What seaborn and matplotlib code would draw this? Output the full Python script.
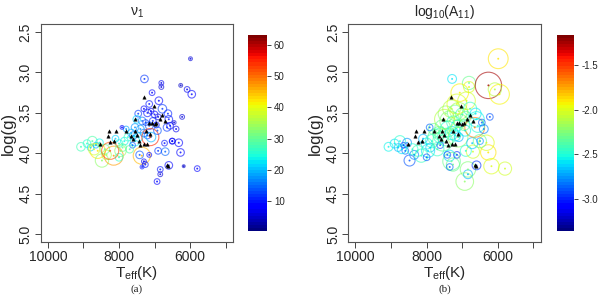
import numpy as np
import pandas as pd
import matplotlib
matplotlib.use('Agg')
import matplotlib.pyplot as plt
import seaborn as sns
from matplotlib.colors import Normalize
from matplotlib.cm import ScalarMappable

# stars with pulsation data
teff = [9070, 8900, 8800, 8750, 8600, 8480, 8650, 8550, 8400, 8150,
        7960, 8000, 8100, 7850, 7750, 7650, 7550, 7900, 8350, 8000,
        7460, 7300, 7200, 7100, 7000, 6900, 7350, 7250, 7150, 7050,
        6950, 7400, 7300, 7200, 7100, 7450, 7550, 7600, 7620, 7120,
        7360, 7260, 7150, 6900, 6700, 6720, 6320, 6270, 6500, 6840,
        6840, 6180, 5800, 6930, 7300, 6650, 6565, 6625, 6395, 6225,
        6505, 7285, 6810, 6810, 6265, 6085, 5955, 5990, 7070, 7150,
        6880, 6780, 6600, 7500, 6920, 6450, 7700, 7800, 7916, 7420,
        7352, 6600, 8250, 8700]
logg = [3.92, 3.88, 3.93, 3.85, 3.97, 4.09, 3.90, 3.87, 3.95, 4.03,
        3.97, 3.88, 3.82, 3.85, 3.80, 3.75, 3.68, 3.93, 4.02, 4.05,
        3.51, 3.45, 3.50, 3.48, 3.52, 3.55, 3.60, 3.62, 3.66, 3.60,
        3.65, 3.70, 3.75, 3.78, 3.80, 3.80, 3.85, 3.78, 3.90, 3.80,
        4.03, 4.14, 4.02, 3.97, 3.98, 3.875, 3.87, 3.99, 3.85, 4.20,
        4.26, 4.16, 4.19, 4.35, 4.10, 3.68, 3.66, 3.51, 3.70, 3.55,
        3.85, 3.08, 3.13, 3.18, 3.16, 3.21, 3.27, 2.83, 3.25, 3.39,
        3.35, 3.45, 3.58, 3.58, 3.72, 3.62, 3.95, 3.70, 3.68, 4.02,
        4.17, 4.15, 3.97, 3.95]
nu1 = [27, 25, 22, 28, 42, 33, 20, 24, 30, 47,
       33, 25, 22, 24, 26, 20, 18, 30, 35, 26,
       12, 8, 10, 7, 9, 6, 15, 12, 14, 11,
       9, 18, 16, 13, 20, 22, 24, 17, 14, 55,
       45, 10, 8, 12, 15, 10, 8, 9, 7, 10,
       6, 5, 8, 9, 7, 12, 9, 11, 7, 6,
       8, 12, 7, 6, 5, 7, 9, 6, 8, 10,
       9, 12, 10, 22, 14, 6, 28, 19, 8, 14,
       10, 9, 52, 38]
amp_a = [4.5, 4, 3.5, 5, 8, 7, 3, 4, 5, 10,
         6, 4, 3.5, 4, 4, 4, 4, 4, 5, 4,
         3.5, 3, 4, 3, 3.5, 3, 4, 3, 4, 3.5,
         3, 4, 4, 3.5, 5, 4.5, 5, 4, 3, 9,
         9, 3, 2.5, 3.5, 4, 3, 4, 4, 3, 3,
         2.5, 1.5, 3, 3, 2.5, 4, 3.5, 4, 3, 2.5,
         3, 4, 2.5, 2.5, 2, 3, 4, 2, 3, 3.5,
         4, 4.5, 4, 4, 4, 2, 4, 3, 2, 4,
         2, 4, 9, 6]
logA = [-2.55, -2.6, -2.7, -2.5, -2.85, -2.9, -2.95, -2.75, -2.5, -2.45,
        -2.6, -2.55, -2.7, -2.5, -2.35, -2.4, -2.3, -2.65, -2.8, -2.9,
        -2.2, -2.1, -2.3, -2.15, -2.4, -2.3, -2.25, -2.45, -2.5, -2.2,
        -2.35, -2.5, -2.6, -2.55, -2.7, -2.4, -2.35, -2.45, -2.9, -2.2,
        -2.6, -2.3, -2.95, -2.5, -2.05, -2.65, -2.0, -1.9, -2.75, -2.25,
        -2.7, -2.0, -2.05, -2.2, -2.3, -1.65, -2.5, -2.6, -2.8, -2.9,
        -2.3, -2.6, -2.3, -2.0, -1.25, -2.1, -1.95, -1.9, -1.95, -2.0,
        -2.05, -2.45, -2.55, -2.1, -2.55, -2.85, -2.45, -2.3, -2.85, -2.9,
        -2.85, -2.95, -2.4, -2.6]
amp_b = [4, 4, 3.5, 5, 3, 5, 2.5, 4, 5, 6,
         6, 5, 4, 6, 7, 6, 7, 4, 4, 3,
         7, 8, 7, 8, 6, 5, 9, 6, 5, 6,
         5, 7, 6, 5, 4, 8, 9, 7, 3, 9,
         5, 6, 3, 5, 6, 5, 7, 7, 3, 7,
         4, 7, 6, 8, 8, 9, 6, 5, 4, 3,
         6, 4, 6, 5, 12, 6, 9, 9, 8, 9,
         8, 6, 7, 9, 5, 3, 6, 5, 3, 3,
         3, 4, 5, 4]

# stars without detected frequencies (black symbols)
teff_k = [8290, 8320, 8245, 8130, 8080, 7790, 7650, 8530, 7540, 7500,
          7560, 7610, 7310, 7025, 6780, 6860, 6950, 7000, 7080, 7150,
          7250, 7130, 7400, 7300, 7200, 6620, 6650, 6700, 7450]
logg_k = [3.73, 3.79, 3.855, 3.85, 3.72, 3.73, 3.79, 3.89, 3.575, 3.77,
          3.73, 3.82, 3.30, 3.42, 3.53, 3.58, 3.62, 3.64, 3.62, 3.63,
          3.72, 3.76, 3.90, 3.88, 3.89, 4.16, 4.14, 3.60, 3.85]

stars = pd.DataFrame({'teff': teff, 'logg': logg, 'nu1': nu1, 'amp_a': amp_a,
                      'logA': logA, 'amp_b': amp_b})
quiet = pd.DataFrame({'teff': teff_k, 'logg': logg_k})

sns.set_style('white')
plt.rcParams['font.family'] = ['Liberation Sans', 'DejaVu Sans']
plt.rcParams['axes.unicode_minus'] = False

fig = plt.figure(figsize=(6, 2.96), dpi=100)

panels = [
    dict(ax=[0.068, 0.182, 0.320, 0.737], cax=[0.413, 0.220, 0.032, 0.662],
         col='nu1', amp='amp_a', scale=0.95, lim=(0.5, 63.2),
         ticks=[10, 20, 30, 40, 50, 60],
         fmt='{:.0f}', title=r'$\mathregular{\nu_1}$', tag='(a)'),
    dict(ax=[0.5805, 0.182, 0.3205, 0.737], cax=[0.928, 0.220, 0.029, 0.662],
         col='logA', amp='amp_b', scale=1.1, lim=(-3.36, -1.16),
         ticks=[-3.0, -2.5, -2.0, -1.5],
         fmt='{:.1f}', title=r'$\mathregular{log_{10}(A_{11})}$', tag='(b)'),
]

cmap = plt.get_cmap('jet', 64)

for p in panels:
    ax = fig.add_axes(p['ax'])
    norm = Normalize(*p['lim'])
    # marker radius in px -> area in pt^2
    s_ring = (2 * stars[p['amp']] * 0.72 * p['scale']) ** 2
    sns.scatterplot(data=stars, x='teff', y='logg', hue=p['col'], palette=cmap,
                    hue_norm=norm, s=s_ring, legend=False, ax=ax, alpha=0.6,
                    linewidth=0.8)
    ring = ax.collections[-1]
    fc = ring.get_facecolors()
    ring.set_facecolor('none')
    ring.set_edgecolor(fc)
    sns.scatterplot(data=stars, x='teff', y='logg', hue=p['col'], palette=cmap,
                    hue_norm=norm, s=2, legend=False, ax=ax, linewidth=0, alpha=0.8)
    sns.scatterplot(data=quiet, x='teff', y='logg', color='black', marker='^',
                    s=6, linewidth=0.3, edgecolor='black', legend=False, ax=ax)

    ax.set_xlim(10200, 4800)
    ax.set_ylim(5.1, 2.4)
    ax.set_xticks([10000, 9000, 8000, 7000, 6000, 5000])
    ax.set_xticklabels(['10000', '', '8000', '', '6000', ''], fontsize=10)
    ax.set_yticks([2.5, 3.0, 3.5, 4.0, 4.5, 5.0])
    ax.set_yticklabels(['2.5', '3.0', '3.5', '4.0', '4.5', '5.0'], fontsize=10,
                       rotation=90, va='center')
    ax.tick_params(direction='out', length=4, width=0.7, color='#444444',
                   bottom=True, left=True, pad=2)
    for sp in ax.spines.values():
        sp.set_color('#555555')
        sp.set_linewidth(0.8)
    ax.set_xlabel(r'$\mathregular{T_{eff}(K)}$', fontsize=11, labelpad=0)
    ax.set_ylabel('log(g)', fontsize=12, labelpad=2)
    ax.set_title(p['title'], fontsize=10, pad=6)
    cx = p['ax'][0] + p['ax'][2] / 2
    fig.text(cx, 0.008, p['tag'], ha='center', va='bottom', fontsize=8,
             family='Liberation Serif')

    cax = fig.add_axes(p['cax'])
    cb = fig.colorbar(ScalarMappable(norm=norm, cmap=cmap), cax=cax)
    cb.outline.set_visible(False)
    cb.set_ticks(p['ticks'])
    cb.set_ticklabels([p['fmt'].format(t) for t in p['ticks']])
    cax.tick_params(labelsize=7, length=3, width=0.6, pad=2)

fig.savefig('out.png', dpi=100)
